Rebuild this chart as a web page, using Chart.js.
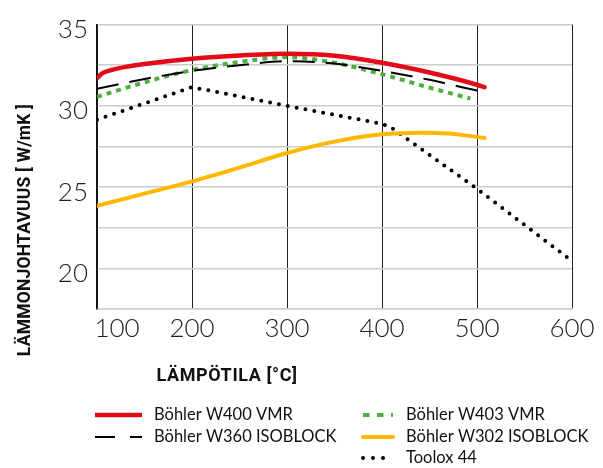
<!DOCTYPE html>
<html>
<head>
<meta charset="utf-8">
<script src="https://cdn.jsdelivr.net/npm/chart.js@4/dist/chart.umd.min.js"></script>
<style>
  html, body { margin: 0; padding: 0; background: #fff; }
  #wrap { width: 603px; height: 468px; position: relative; }
</style>
</head>
<body>
<div id="wrap"><canvas id="c" width="603" height="468"></canvas></div>
<script>
// ---- data ----
const xTickValues = [100, 200, 300, 400, 500, 600];
const yTickLabelsShown = [20, 25, 30, 35];

const w400Temp = [100, 105, 115, 130, 150, 200, 250, 300, 350, 400, 450, 500, 508];
const w400Val  = [31.7, 31.98, 32.2, 32.4, 32.58, 32.9, 33.1, 33.2, 33.08, 32.65, 32.05, 31.3, 31.15];

const w360Temp = [100, 150, 200, 250, 300, 350, 400, 450, 500, 510];
const w360Val  = [31.05, 31.65, 32.15, 32.5, 32.75, 32.6, 32.15, 31.6, 30.95, 30.85];

const w403Temp = [100, 150, 200, 250, 300, 350, 400, 450, 493];
const w403Val  = [30.55, 31.45, 32.2, 32.7, 33.0, 32.65, 31.95, 31.12, 30.45];

const w302Temp = [100, 150, 200, 250, 300, 350, 400, 440, 470, 508];
const w302Val  = [23.85, 24.6, 25.35, 26.2, 27.1, 27.8, 28.25, 28.35, 28.3, 28.02];

const toolTemp = [100, 200, 300, 400, 410, 500, 600];
const toolVal  = [29.15, 31.15, 30.0, 28.9, 28.65, 24.9, 20.45];

const seriesNames = ['Böhler W400 VMR', 'Böhler W403 VMR', 'Böhler W360 ISOBLOCK', 'Böhler W302 ISOBLOCK', 'Toolox 44'];
const yTitle = 'LÄMMONJOHTAVUUS [ W/mK ]';
const xTitle = 'LÄMPÖTILA [°C]';

const toXY = (xs, ys) => xs.map((x, i) => ({ x: x, y: ys[i] }));

const RED = '#e30b17', BLACK = '#000000', GREEN = '#4caf3f', YELLOW = '#ffb800';

const datasets = [
  { label: seriesNames[0], data: toXY(w400Temp, w400Val), borderColor: RED, borderWidth: 4.5,
    cubicInterpolationMode: 'monotone', borderCapStyle: 'round' },
  { label: seriesNames[2], data: toXY(w360Temp, w360Val), borderColor: BLACK, borderWidth: 2,
    borderDash: [22, 11], cubicInterpolationMode: 'monotone' },
  { label: seriesNames[1], data: toXY(w403Temp, w403Val), borderColor: GREEN, borderWidth: 4,
    borderDash: [5, 5], cubicInterpolationMode: 'monotone' },
  { label: seriesNames[3], data: toXY(w302Temp, w302Val), borderColor: YELLOW, borderWidth: 4,
    cubicInterpolationMode: 'monotone', borderCapStyle: 'round' },
  { label: seriesNames[4], data: toXY(toolTemp, toolVal), borderColor: BLACK, borderWidth: 4,
    borderDash: [0, 9], borderCapStyle: 'round', tension: 0 }
];
datasets.forEach(d => { d.pointRadius = 0; d.fill = false; d.backgroundColor = d.borderColor; });

const legendItems = [
  { name: seriesNames[0], col: 0, row: 0, color: RED, width: 4.5, dash: [], cap: 'butt' },
  { name: seriesNames[2], col: 0, row: 1, color: BLACK, width: 2, dash: [20, 15], cap: 'butt' },
  { name: seriesNames[1], col: 1, row: 0, color: GREEN, width: 4, dash: [6.5, 7.5], cap: 'butt' },
  { name: seriesNames[3], col: 1, row: 1, color: YELLOW, width: 4, dash: [], cap: 'round' },
  { name: seriesNames[4], col: 1, row: 2, color: BLACK, width: 4, dash: [0, 10], cap: 'round' }
];

const decor = {
  id: 'decor',
  afterDraw(chart) {
    const ctx = chart.ctx;
    const xs = chart.scales.x;
    const area = chart.chartArea;
    ctx.save();
    // x tick labels
    ctx.fillStyle = '#222';
    ctx.font = '300 26px Lato';
    ctx.textAlign = 'center';
    ctx.textBaseline = 'middle';
    xTickValues.forEach(v => {
      const px = xs.getPixelForValue(v) + (v === xTickValues[0] ? 20 : 0);
      ctx.fillText(String(v), px, area.bottom + 20);
    });
    // axis titles
    ctx.fillStyle = '#111';
    ctx.font = 'bold 17.5px Roboto';
    ctx.textBaseline = 'middle';
    ctx.save();
    ctx.translate(26, 230);
    ctx.rotate(-Math.PI / 2);
    ctx.textAlign = 'center';
    ctx.letterSpacing = '0.2px';
    ctx.fillText(yTitle, 0, 0);
    ctx.restore();
    ctx.font = 'bold 18px Roboto';
    ctx.letterSpacing = '0.6px';
    ctx.textAlign = 'center';
    ctx.fillText(xTitle, 227, 376);
    ctx.letterSpacing = '0px';
    // legend
    const cols = [{ lx: 95, len: 47, tx: 154 }, { lx: 363, len: 30, tx: 406 }];
    const rows = [415, 437, 458];
    legendItems.forEach(it => {
      const c = cols[it.col], y = rows[it.row];
      ctx.beginPath();
      ctx.strokeStyle = it.color;
      ctx.lineWidth = it.width;
      ctx.lineCap = it.cap;
      ctx.setLineDash(it.dash);
      ctx.moveTo(c.lx, y);
      ctx.lineTo(c.lx + c.len, y);
      ctx.stroke();
      ctx.setLineDash([]);
      ctx.fillStyle = '#111';
      ctx.font = '16.5px Lato';
      ctx.textAlign = 'left';
      ctx.textBaseline = 'middle';
      ctx.fillText(it.name, c.tx, y);
    });
    ctx.restore();
  }
};

new Chart(document.getElementById('c'), {
  type: 'line',
  data: { datasets: datasets },
  plugins: [decor],
  options: {
    responsive: false,
    animation: false,
    devicePixelRatio: 1,
    layout: { padding: { left: 0, right: 31, top: 15, bottom: 0 } },
    plugins: { legend: { display: false }, tooltip: { enabled: false } },
    scales: {
      x: {
        type: 'linear', min: 100, max: 600,
        ticks: { stepSize: 100, display: false },
        grid: { color: '#222', lineWidth: 1, drawTicks: false },
        border: { color: '#cccccc', width: 1.5 },
        afterFit: s => { s.height = 159; }
      },
      y: {
        type: 'linear', min: 17.5, max: 35,
        ticks: {
          stepSize: 2.5, padding: 9, labelOffset: 5, color: '#222',
          font: { family: 'Lato', size: 26, weight: 300 },
          callback: v => (yTickLabelsShown.includes(v) ? String(v) : '')
        },
        grid: { color: '#cccccc', lineWidth: 1.5, drawTicks: false },
        border: { color: '#111', width: 1.5 },
        afterFit: s => { s.width = 97; }
      }
    }
  }
});
</script>
</body>
</html>
